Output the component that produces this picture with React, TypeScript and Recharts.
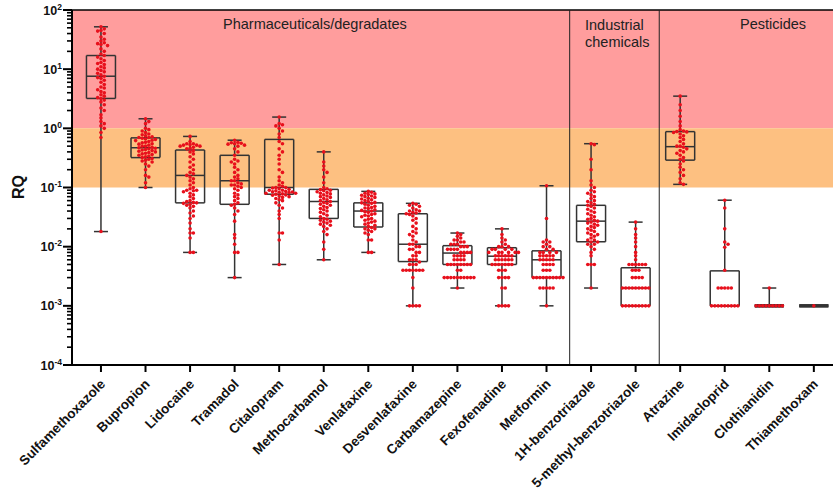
import React from 'react';
import { ComposedChart, XAxis, YAxis, Scatter, ReferenceArea, ReferenceLine } from 'recharts';

const COMPOUNDS = [
  'Sulfamethoxazole', 'Bupropion', 'Lidocaine', 'Tramadol', 'Citalopram', 'Methocarbamol',
  'Venlafaxine', 'Desvenlafaxine', 'Carbamazepine', 'Fexofenadine', 'Metformin',
  '1H-benzotriazole', '5-methyl-benzotriazole', 'Atrazine', 'Imidacloprid', 'Clothianidin', 'Thiamethoxam',
];

// box plot summary (min / quartiles / max)
const MIN = [0.018, 0.1, 0.008, 0.003, 0.005, 0.006, 0.008, 0.001, 0.002, 0.001, 0.001, 0.002, 0.001, 0.113, 0.001, 0.001, 0.001];
const Q1 = [3.2, 0.32, 0.055, 0.052, 0.077, 0.03, 0.0215, 0.0056, 0.005, 0.005, 0.003, 0.0121, 0.001, 0.29, 0.001, 0.001, 0.001];
const MEDIAN = [7.6, 0.47, 0.16, 0.13, 0.1, 0.058, 0.04, 0.011, 0.0078, 0.0069, 0.006, 0.027, 0.002, 0.49, 0.001, 0.001, 0.001];
const Q3 = [17, 0.69, 0.43, 0.35, 0.65, 0.093, 0.055, 0.036, 0.0104, 0.0096, 0.0085, 0.05, 0.0044, 0.88, 0.0039, 0.001, 0.001];
const MAX = [52, 1.45, 0.73, 0.63, 1.55, 0.4, 0.086, 0.054, 0.017, 0.02, 0.107, 0.55, 0.026, 3.5, 0.061, 0.002, 0.001];

// individual samples
const SULFAMETHOXAZOLE = [52, 48, 45, 44, 40, 35, 32, 30, 28, 27, 26, 25, 22, 20, 18, 17, 16, 15, 14, 13, 12.5, 12, 11, 10.5, 10, 9.5, 9, 8.5, 8, 7.6, 7.2, 7, 6.5, 6, 5.5, 5, 4.8, 4.5, 4.2, 4, 3.7, 3.5, 3.3, 3.2, 3, 2.8, 2.5, 2.2, 2, 1.7, 1.5, 1.3, 1.2, 1.1, 1.0, 0.85, 0.7, 0.018];
const BUPROPION = [1.45, 1.3, 1.2, 1.0, 0.95, 0.9, 0.85, 0.8, 0.78, 0.75, 0.72, 0.7, 0.7, 0.68, 0.66, 0.65, 0.63, 0.62, 0.6, 0.58, 0.57, 0.55, 0.54, 0.52, 0.5, 0.5, 0.48, 0.47, 0.46, 0.45, 0.44, 0.43, 0.42, 0.41, 0.4, 0.39, 0.38, 0.37, 0.36, 0.35, 0.34, 0.33, 0.32, 0.31, 0.3, 0.29, 0.28, 0.27, 0.25, 0.23, 0.2, 0.16, 0.15, 0.12, 0.1];
const LIDOCAINE = [0.73, 0.6, 0.55, 0.55, 0.53, 0.52, 0.52, 0.5, 0.5, 0.48, 0.46, 0.45, 0.42, 0.4, 0.37, 0.33, 0.3, 0.27, 0.24, 0.22, 0.2, 0.18, 0.17, 0.16, 0.15, 0.14, 0.13, 0.12, 0.11, 0.1, 0.095, 0.09, 0.09, 0.088, 0.085, 0.08, 0.075, 0.07, 0.065, 0.06, 0.058, 0.056, 0.055, 0.054, 0.052, 0.05, 0.048, 0.045, 0.04, 0.037, 0.033, 0.03, 0.025, 0.02, 0.017, 0.017, 0.014, 0.008, 0.008];
const TRAMADOL = [0.63, 0.58, 0.57, 0.56, 0.55, 0.54, 0.52, 0.5, 0.45, 0.4, 0.35, 0.3, 0.28, 0.27, 0.25, 0.22, 0.2, 0.18, 0.16, 0.15, 0.14, 0.13, 0.13, 0.12, 0.115, 0.11, 0.11, 0.105, 0.1, 0.095, 0.09, 0.08, 0.075, 0.07, 0.065, 0.06, 0.055, 0.052, 0.05, 0.045, 0.04, 0.035, 0.027, 0.016, 0.014, 0.011, 0.008, 0.008, 0.003];
const CITALOPRAM = [1.55, 1.2, 1.15, 1.1, 1.0, 0.9, 0.8, 0.7, 0.6, 0.55, 0.45, 0.4, 0.35, 0.3, 0.25, 0.2, 0.18, 0.15, 0.13, 0.12, 0.11, 0.105, 0.1, 0.1, 0.098, 0.095, 0.093, 0.09, 0.09, 0.088, 0.086, 0.085, 0.084, 0.083, 0.082, 0.08, 0.08, 0.078, 0.077, 0.075, 0.074, 0.072, 0.07, 0.068, 0.065, 0.062, 0.06, 0.055, 0.05, 0.045, 0.04, 0.035, 0.03, 0.017, 0.017, 0.013, 0.005];
const METHOCARBAMOL = [0.4, 0.27, 0.23, 0.2, 0.18, 0.15, 0.12, 0.1, 0.095, 0.092, 0.09, 0.088, 0.085, 0.082, 0.08, 0.078, 0.075, 0.072, 0.07, 0.068, 0.065, 0.062, 0.06, 0.058, 0.056, 0.054, 0.052, 0.05, 0.048, 0.046, 0.044, 0.042, 0.04, 0.038, 0.036, 0.034, 0.032, 0.03, 0.029, 0.028, 0.027, 0.026, 0.025, 0.024, 0.023, 0.022, 0.02, 0.018, 0.016, 0.012, 0.009, 0.006];
const VENLAFAXINE = [0.086, 0.083, 0.08, 0.078, 0.076, 0.074, 0.072, 0.07, 0.068, 0.066, 0.064, 0.062, 0.06, 0.058, 0.056, 0.055, 0.054, 0.052, 0.05, 0.048, 0.046, 0.045, 0.044, 0.042, 0.041, 0.04, 0.039, 0.038, 0.036, 0.035, 0.034, 0.033, 0.032, 0.03, 0.029, 0.028, 0.027, 0.026, 0.025, 0.024, 0.023, 0.022, 0.021, 0.02, 0.02, 0.019, 0.018, 0.017, 0.016, 0.013, 0.013, 0.008, 0.008];
const DESVENLAFAXINE = [0.054, 0.052, 0.05, 0.048, 0.045, 0.042, 0.04, 0.04, 0.038, 0.037, 0.036, 0.035, 0.033, 0.03, 0.028, 0.025, 0.022, 0.02, 0.018, 0.017, 0.016, 0.015, 0.013, 0.012, 0.011, 0.011, 0.01, 0.01, 0.009, 0.009, 0.008, 0.008, 0.007, 0.007, 0.006, 0.006, 0.006, 0.0055, 0.005, 0.005, 0.005, 0.004, 0.004, 0.004, 0.004, 0.004, 0.004, 0.004, 0.003, 0.002, 0.001, 0.001, 0.001, 0.001];
const CARBAMAZEPINE = [0.017, 0.016, 0.015, 0.014, 0.013, 0.013, 0.012, 0.012, 0.011, 0.011, 0.011, 0.01, 0.01, 0.01, 0.009, 0.009, 0.009, 0.009, 0.008, 0.008, 0.008, 0.008, 0.007, 0.007, 0.007, 0.007, 0.006, 0.006, 0.006, 0.006, 0.005, 0.005, 0.005, 0.005, 0.005, 0.005, 0.005, 0.005, 0.004, 0.004, 0.003, 0.003, 0.003, 0.003, 0.003, 0.003, 0.003, 0.003, 0.003, 0.003, 0.002];
const FEXOFENADINE = [0.02, 0.016, 0.014, 0.013, 0.012, 0.011, 0.01, 0.01, 0.01, 0.009, 0.009, 0.009, 0.009, 0.008, 0.008, 0.008, 0.008, 0.008, 0.008, 0.007, 0.007, 0.007, 0.007, 0.007, 0.007, 0.006, 0.006, 0.006, 0.006, 0.006, 0.006, 0.005, 0.005, 0.005, 0.005, 0.005, 0.005, 0.005, 0.004, 0.004, 0.004, 0.003, 0.003, 0.003, 0.003, 0.002, 0.002, 0.001, 0.001, 0.001, 0.001];
const METFORMIN = [0.107, 0.03, 0.013, 0.012, 0.012, 0.011, 0.01, 0.01, 0.009, 0.009, 0.008, 0.008, 0.008, 0.008, 0.007, 0.007, 0.007, 0.007, 0.007, 0.006, 0.006, 0.006, 0.006, 0.006, 0.005, 0.005, 0.005, 0.005, 0.004, 0.004, 0.004, 0.003, 0.003, 0.003, 0.003, 0.003, 0.003, 0.003, 0.003, 0.003, 0.003, 0.002, 0.002, 0.002, 0.002, 0.002, 0.001];
const BENZOTRIAZOLE = [0.55, 0.53, 0.3, 0.2, 0.13, 0.11, 0.1, 0.09, 0.085, 0.08, 0.075, 0.07, 0.065, 0.06, 0.058, 0.055, 0.052, 0.05, 0.048, 0.045, 0.043, 0.04, 0.038, 0.036, 0.034, 0.032, 0.03, 0.029, 0.028, 0.027, 0.026, 0.025, 0.024, 0.023, 0.022, 0.021, 0.02, 0.019, 0.018, 0.017, 0.016, 0.016, 0.015, 0.014, 0.013, 0.013, 0.012, 0.012, 0.011, 0.011, 0.01, 0.009, 0.008, 0.007, 0.005, 0.005, 0.005, 0.002];
const METHYL_BENZOTRIAZOLE = [0.026, 0.02, 0.016, 0.014, 0.012, 0.01, 0.008, 0.007, 0.006, 0.005, 0.005, 0.005, 0.005, 0.005, 0.005, 0.004, 0.004, 0.004, 0.003, 0.003, 0.003, 0.003, 0.002, 0.002, 0.002, 0.002, 0.002, 0.002, 0.002, 0.002, 0.002, 0.001, 0.001, 0.001, 0.001, 0.001, 0.001, 0.001, 0.001, 0.001];
const ATRAZINE = [3.5, 2.5, 2, 1.6, 1.3, 1.1, 0.95, 0.9, 0.88, 0.87, 0.85, 0.8, 0.75, 0.7, 0.65, 0.6, 0.55, 0.5, 0.5, 0.48, 0.45, 0.42, 0.4, 0.38, 0.35, 0.32, 0.3, 0.28, 0.25, 0.22, 0.2, 0.18, 0.16, 0.14, 0.12, 0.113];
const IMIDACLOPRID = [0.061, 0.045, 0.02, 0.012, 0.011, 0.0098, 0.004, 0.002, 0.002, 0.002, 0.002, 0.002, 0.001, 0.001, 0.001, 0.001, 0.001, 0.001, 0.001, 0.001, 0.001];
const CLOTHIANIDIN = [0.002, 0.001, 0.001, 0.001, 0.001, 0.001, 0.001, 0.001, 0.001, 0.001];
const THIAMETHOXAM = [0.001];

const SAMPLES = [
  SULFAMETHOXAZOLE, BUPROPION, LIDOCAINE, TRAMADOL, CITALOPRAM, METHOCARBAMOL, VENLAFAXINE,
  DESVENLAFAXINE, CARBAMAZEPINE, FEXOFENADINE, METFORMIN, BENZOTRIAZOLE, METHYL_BENZOTRIAZOLE,
  ATRAZINE, IMIDACLOPRID, CLOTHIANIDIN, THIAMETHOXAM,
];

const Y_MAJOR = [0.0001, 0.001, 0.01, 0.1, 1, 10, 100];
const GROUP_DIVIDERS = [10.52, 12.53];

// layout
const W = 833;
const H = 495;
const AXIS_W = 72;
const AXIS_H = 130;
const TOP = 10;
const X_DOMAIN: [number, number] = [-0.65, 16.43];
const PX_PER_CAT = (W - AXIS_W) / (X_DOMAIN[1] - X_DOMAIN[0]);
const PX_PER_DEC = (H - TOP - AXIS_H) / 6;
const BOX_HALF = 14.5 / PX_PER_CAT;
const CAP_HALF = 7 / PX_PER_CAT;
const DOT_GAP = 3.3;
const FONT = 'Arial, "Liberation Sans", Helvetica, sans-serif';
const LINE = '#333';

const yTicks: number[] = [];
Y_MAJOR.forEach((m, i) => {
  yTicks.push(m);
  if (i < Y_MAJOR.length - 1) for (let k = 2; k < 10; k++) yTicks.push(m * k);
});

// simple beeswarm so equal values line up in rows
const swarm = (values: number[], idx: number) => {
  const placed: { px: number; py: number }[] = [];
  return [...values].sort((a, b) => b - a).map(v => {
    const py = -Math.log10(v) * PX_PER_DEC;
    let off = 0;
    for (let k = 0; k < 60; k++) {
      const cand = k === 0 ? 0 : (k % 2 ? 1 : -1) * Math.ceil(k / 2) * DOT_GAP;
      if (placed.every(p => (p.px - cand) ** 2 + (p.py - py) ** 2 >= DOT_GAP * DOT_GAP * 0.92)) { off = cand; break; }
    }
    placed.push({ px: off, py });
    return { x: idx + off / PX_PER_CAT, y: v };
  });
};

const dots = SAMPLES.flatMap((vals, i) => swarm(vals, i));

const isMajor = (v: number) => Math.abs(Math.log10(v) - Math.round(Math.log10(v))) < 1e-6;

const YTick = (props: any) => {
  const { x, y, payload } = props;
  const v = payload.value;
  if (!isMajor(v)) return <line x1={x - 5} y1={y} x2={x} y2={y} stroke="#000" strokeWidth={1.6} />;
  const exp = Math.round(Math.log10(v));
  return (
    <g>
      <line x1={x - 9} y1={y} x2={x} y2={y} stroke="#000" strokeWidth={2} />
      <text x={x - 10} y={y + 4.5} textAnchor="end" fontFamily={FONT} fontSize={12.5} fontWeight="bold" fill="#111">
        10<tspan dy={-5} fontSize={8.5}>{exp}</tspan>
      </text>
    </g>
  );
};

const XTick = (props: any) => {
  const { x, y, payload } = props;
  return (
    <g transform={`translate(${x},${y})`}>
      <line x1={0} y1={0} x2={0} y2={7} stroke="#000" strokeWidth={2} />
      <text transform="translate(5,20) rotate(-45)" textAnchor="end" fontFamily={FONT} fontSize={13.5} fontWeight="bold" fill="#111">
        {COMPOUNDS[payload.value]}
      </text>
    </g>
  );
};

const Dot = (props: any) => <circle cx={props.cx} cy={props.cy} r={1.8} fill="#E8101C" />;

const seg = (x1: number, y1: number, x2: number, y2: number, key: string, w = 1.5) => (
  <ReferenceLine key={key} segment={[{ x: x1, y: y1 }, { x: x2, y: y2 }]} stroke={LINE} strokeWidth={w} ifOverflow="visible" />
);

const App = () => {
  const boxes = COMPOUNDS.flatMap((_, i) => {
    const bw = Q1[i] === Q3[i] ? 3 : 1.5;
    return [
      seg(i, MIN[i], i, Q1[i], `wl${i}`),
      seg(i, Q3[i], i, MAX[i], `wu${i}`),
      seg(i - CAP_HALF, MIN[i], i + CAP_HALF, MIN[i], `cl${i}`),
      seg(i - CAP_HALF, MAX[i], i + CAP_HALF, MAX[i], `cu${i}`),
      seg(i - BOX_HALF, Q1[i], i + BOX_HALF, Q1[i], `b${i}`, bw),
      seg(i - BOX_HALF, Q3[i], i + BOX_HALF, Q3[i], `t${i}`, bw),
      seg(i - BOX_HALF, Q1[i], i - BOX_HALF, Q3[i], `l${i}`),
      seg(i + BOX_HALF, Q1[i], i + BOX_HALF, Q3[i], `r${i}`),
      seg(i - BOX_HALF, MEDIAN[i], i + BOX_HALF, MEDIAN[i], `m${i}`, bw),
    ];
  });

  return (
    <div style={{ position: 'absolute', left: 0, top: 0, width: W, height: H, background: '#fff' }}>
      <ComposedChart width={W} height={H} data={dots} margin={{ top: TOP, right: 0, bottom: 0, left: 0 }}>
        <ReferenceArea y1={1} y2={100} fill="#FF9D9D" fillOpacity={1} stroke="none" />
        <ReferenceArea y1={0.1} y2={1} fill="#FDC081" fillOpacity={1} stroke="none" />
        <XAxis
          type="number"
          dataKey="x"
          domain={X_DOMAIN}
          allowDataOverflow
          ticks={COMPOUNDS.map((_, i) => i)}
          interval={0}
          height={AXIS_H}
          tickSize={0}
          tickMargin={0}
          tick={<XTick />}
          axisLine={{ stroke: '#000', strokeWidth: 2 }}
        />
        <YAxis
          type="number"
          dataKey="y"
          scale="log"
          domain={[0.0001, 100]}
          allowDataOverflow
          ticks={yTicks}
          interval={0}
          width={AXIS_W}
          tickSize={0}
          tickMargin={0}
          tick={<YTick />}
          axisLine={{ stroke: '#000', strokeWidth: 2 }}
        />
        <ReferenceLine y={100} stroke="#000" strokeWidth={1.5} />
        {GROUP_DIVIDERS.map(d => (
          <ReferenceLine key={d} x={d} stroke="#222" strokeWidth={1} />
        ))}
        {boxes}
        <Scatter data={dots} dataKey="y" shape={<Dot />} isAnimationActive={false} />
      </ComposedChart>
      <svg width={W} height={H} style={{ position: 'absolute', left: 0, top: 0, pointerEvents: 'none' }}>
        <text transform="translate(24,187) rotate(-90)" textAnchor="middle" fontFamily={FONT} fontSize={16} fontWeight="bold" fill="#111">RQ</text>
        <text x={223} y={29} fontFamily={FONT} fontSize={14.5} fill="#222">Pharmaceuticals/degradates</text>
        <text x={585} y={30} fontFamily={FONT} fontSize={14.5} fill="#222">Industrial</text>
        <text x={585} y={46.5} fontFamily={FONT} fontSize={14.5} fill="#222">chemicals</text>
        <text x={740} y={29} fontFamily={FONT} fontSize={14.5} fill="#222">Pesticides</text>
      </svg>
    </div>
  );
};

export default App;
